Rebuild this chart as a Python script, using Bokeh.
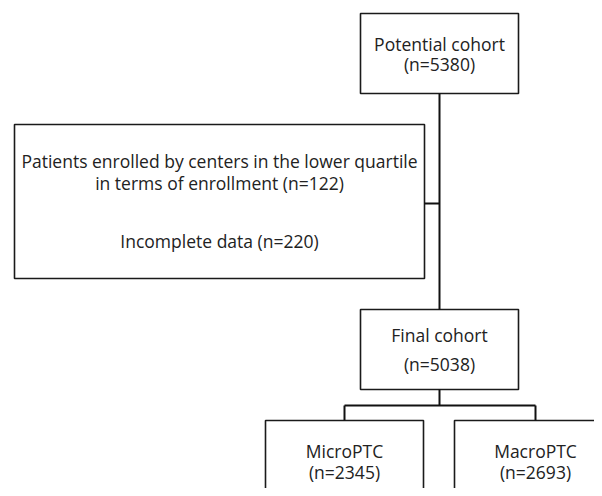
from bokeh.plotting import figure
from bokeh.models import Range1d, ColumnDataSource
from bokeh.core.properties import value
from bokeh.embed import file_html
from bokeh.resources import INLINE

# ---- data (flowchart content) ----
box_titles = ["Potential cohort", "Final cohort", "MicroPTC", "MacroPTC"]
box_counts = [5380, 5038, 2345, 2693]
excl_labels = ["Patients enrolled by centers in the lower quartile",
               "in terms of enrollment (n=122)",
               "Incomplete data (n=220)"]
excl_counts = [122, 220]

# ---- layout (pixel coordinates of the picture) ----
FONT = value("Open Sans")
FS = "17.5px"
TXT = "#222222"

W, H = 594, 488
p = figure(width=W, height=H, output_backend="svg", toolbar_location=None,
           x_range=Range1d(0, W), y_range=Range1d(H, 0), min_border=0)
p.axis.visible = False
p.grid.visible = False
p.outline_line_color = None
p.background_fill_color = "white"
p.border_fill_color = "white"

# boxes: left, right, top, bottom
boxes = dict(
    left=[360, 14, 360, 265, 454],
    right=[518, 424, 518, 423, 640],
    top=[13, 124, 309, 420, 420],
    bottom=[93, 278, 389, 540, 540],
)
p.quad(source=ColumnDataSource(boxes), left="left", right="right", top="top",
       bottom="bottom", fill_color="white", line_color="#1a1a1a", line_width=1.6)

# connectors
p.segment(x0=[439, 424, 439, 344, 344, 535], y0=[93, 203, 389, 405, 405, 405],
          x1=[439, 439, 439, 535, 344, 535], y1=[124 + 185, 203, 405, 405, 420, 420],
          line_color="#111111", line_width=2)

# box texts
tx = [439, 439, 439, 439, 344, 344, 535, 535]
ty = [43, 63, 334, 363, 450, 471, 450, 471]
tt = []
for t, c in zip(box_titles, box_counts):
    tt += [t, "(n=%d)" % c]
p.text(x=tx, y=ty, text=tt, text_font=FONT, text_font_size=FS, text_color=TXT,
       text_align="center", text_baseline="middle")

# exclusion texts
p.text(x=[219, 219, 219], y=[160, 182, 240], text=excl_labels, text_font=FONT,
       text_font_size=FS, text_color=TXT, text_align="center", text_baseline="middle")

open("out.html", "w").write(file_html(p, INLINE))
